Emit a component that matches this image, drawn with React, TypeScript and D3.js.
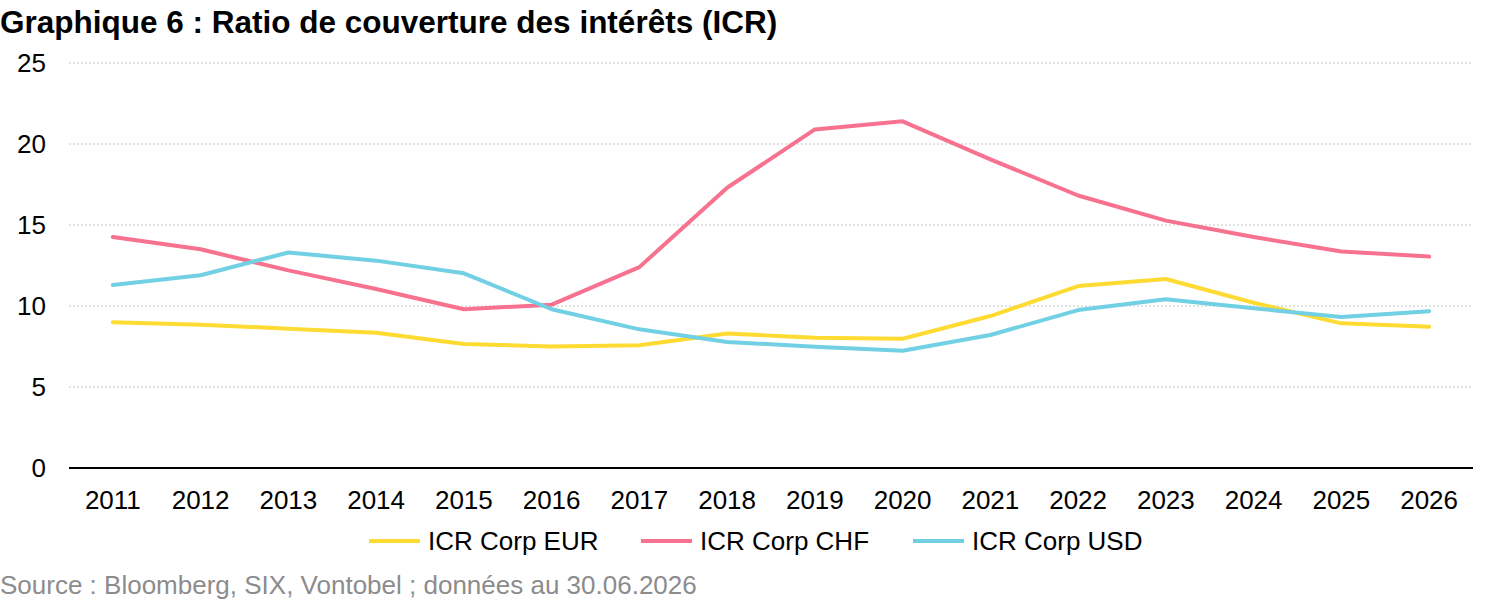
import * as d3 from "d3";

const YEARS = [
  "2011", "2012", "2013", "2014", "2015", "2016", "2017", "2018",
  "2019", "2020", "2021", "2022", "2023", "2024", "2025", "2026",
];
const EUR = [9.0, 8.85, 8.6, 8.35, 7.65, 7.5, 7.58, 8.3, 8.04, 7.98, 9.38, 11.23, 11.67, 10.2, 8.93, 8.72];
const CHF = [14.26, 13.5, 12.2, 11.05, 9.8, 10.08, 12.4, 17.3, 20.9, 21.4, 19.05, 16.82, 15.27, 14.26, 13.37, 13.05];
const USD = [11.3, 11.9, 13.3, 12.8, 12.02, 9.8, 8.56, 7.78, 7.49, 7.24, 8.21, 9.75, 10.42, 9.86, 9.32, 9.68];
const Y_TICKS = [0, 5, 10, 15, 20, 25];

const SERIES = [
  { name: "ICR Corp EUR", values: EUR, color: "#fddb32" },
  { name: "ICR Corp CHF", values: CHF, color: "#f7728f" },
  { name: "ICR Corp USD", values: USD, color: "#72d0e4" },
];

const W = 1500;
const H = 601;
const FONT = "'Liberation Sans', Arial, sans-serif";

export default function App() {
  const margin = { left: 69, right: 27, top: 63, bottom: 133 };
  const innerH = H - margin.top - margin.bottom;

  const x = d3.scaleBand<string>().domain(YEARS).range([margin.left, W - margin.right]);
  const y = d3.scaleLinear().domain([0, 25]).range([margin.top + innerH, margin.top]);
  const cx = (yr: string) => (x(yr) ?? 0) + x.bandwidth() / 2;

  const line = d3
    .line<number>()
    .x((_, i) => cx(YEARS[i]))
    .y((d) => y(d));

  // legend placement
  const legendX = [369, 641, 913];

  return (
    <svg
      width={W}
      height={H}
      style={{ position: "absolute", left: 0, top: 0, background: "#fff" }}
      fontFamily={FONT}
    >
      <text x={0} y={33} fontSize={31.5} fontWeight="bold" fill="#000">
        Graphique 6 : Ratio de couverture des intérêts (ICR)
      </text>

      {/* gridlines + y labels */}
      {Y_TICKS.map((t) => (
        <g key={t}>
          {t > 0 && (
            <line
              x1={margin.left}
              x2={W - margin.right}
              y1={y(t)}
              y2={y(t)}
              stroke="#c8c8c8"
              strokeWidth={1}
              strokeDasharray="2,2"
            />
          )}
          <text x={46} y={y(t)} dy="0.35em" textAnchor="end" fontSize={26} fill="#000">
            {t}
          </text>
        </g>
      ))}

      {/* x axis */}
      <line
        x1={margin.left}
        x2={W - margin.right}
        y1={y(0)}
        y2={y(0)}
        stroke="#000"
        strokeWidth={2}
      />
      {YEARS.map((yr) => (
        <text key={yr} x={cx(yr)} y={509} textAnchor="middle" fontSize={26} fill="#000">
          {yr}
        </text>
      ))}

      {/* lines */}
      {SERIES.map((s) => (
        <path
          key={s.name}
          d={line(s.values) ?? ""}
          fill="none"
          stroke={s.color}
          strokeWidth={4}
          strokeLinejoin="round"
          strokeLinecap="round"
        />
      ))}

      {/* legend */}
      {SERIES.map((s, i) => (
        <g key={s.name} transform={`translate(${legendX[i]},541)`}>
          <line x1={0} x2={51} y1={0} y2={0} stroke={s.color} strokeWidth={4} />
          <text x={59} y={0} dy="0.35em" fontSize={26} fill="#000">
            {s.name}
          </text>
        </g>
      ))}

      <text x={0} y={594} fontSize={26} fill="#8c8c8c">
        Source : Bloomberg, SIX, Vontobel ; données au 30.06.2026
      </text>
    </svg>
  );
}
